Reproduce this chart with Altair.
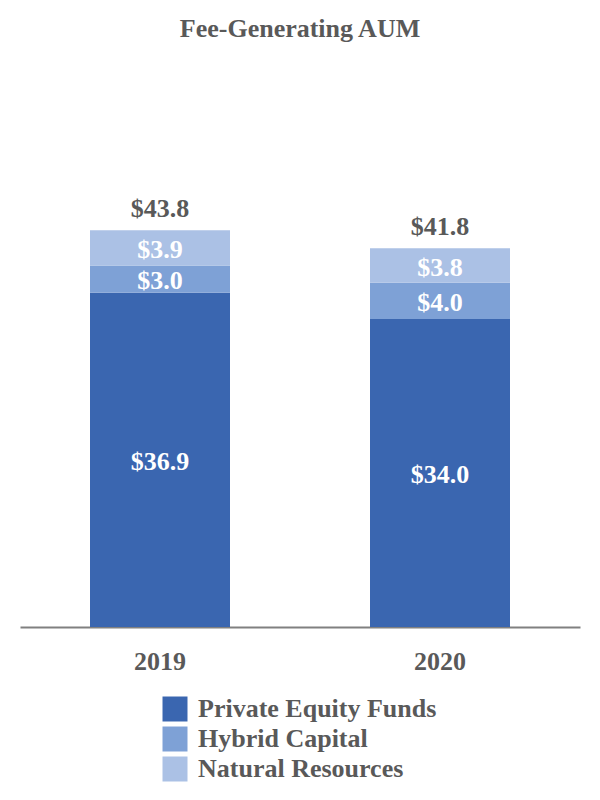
import altair as alt
import pandas as pd

years = ["2019", "2020"]
private_equity = [36.9, 34.0]
hybrid_capital = [3.0, 4.0]
natural_resources = [3.9, 3.8]
totals = [43.8, 41.8]
series_names = ["Private Equity Funds", "Hybrid Capital", "Natural Resources"]
colors = ["#3A66B0", "#7EA1D6", "#ABC1E5"]

rows = []
for i, y in enumerate(years):
    base = 0.0
    for k, (name, vals) in enumerate(zip(series_names, [private_equity, hybrid_capital, natural_resources])):
        v = vals[i]
        rows.append({"year": y, "series": name, "value": v, "order": k,
                     "mid": base + v / 2, "label": f"${v:.1f}"})
        base += v
df = pd.DataFrame(rows)
tot = pd.DataFrame({"year": years, "total": totals, "label": [f"${t:.1f}" for t in totals]})

FONT = "Liberation Serif"
GRAY = "#595959"
FS = 26

x = alt.X("year:N", title=None,
          scale=alt.Scale(paddingInner=0.5, paddingOuter=0.25),
          axis=alt.Axis(labelAngle=0, labelFont=FONT, labelFontSize=FS, labelFontWeight="bold",
                        labelColor=GRAY, ticks=False, tickSize=0, labelPadding=21,
                        domainColor="#808080", domainWidth=2))
yscale = alt.Scale(domain=[0, 50], nice=False)

bars = alt.Chart(df).mark_bar().encode(
    x=x,
    y=alt.Y("value:Q", stack="zero", scale=yscale, axis=None),
    color=alt.Color("series:N", sort=series_names,
                    scale=alt.Scale(domain=series_names, range=colors),
                    legend=alt.Legend(title=None, orient="none", legendX=142, legendY=522,
                                      symbolType="square", symbolSize=625, symbolStrokeWidth=0,
                                      symbolOpacity=1, labelLimit=400,
                                      labelFont=FONT, labelFontSize=FS, labelFontWeight="bold",
                                      labelColor=GRAY, labelOffset=10, rowPadding=4, padding=0)),
    order=alt.Order("order:Q", sort="ascending"),
)

seg_labels = alt.Chart(df).mark_text(font=FONT, fontSize=FS, fontWeight="bold", color="white",
                                     baseline="middle", dy=2).encode(
    x=alt.X("year:N"),
    y=alt.Y("mid:Q", scale=yscale),
    text="label:N",
)

total_labels = alt.Chart(tot).mark_text(font=FONT, fontSize=FS, fontWeight="bold", color=GRAY,
                                        baseline="middle", dy=-21).encode(
    x=alt.X("year:N"),
    y=alt.Y("total:Q", scale=yscale),
    text="label:N",
)

chart = alt.layer(bars, seg_labels, total_labels).properties(
    width=560, height=453,
    title=alt.TitleParams("Fee-Generating AUM", font=FONT, fontSize=FS, fontWeight="bold",
                          color=GRAY, anchor="middle", frame="group", baseline="alphabetic",
                          offset=111),
    autosize=alt.AutoSizeParams(type="none"),
    padding={"left": 12, "top": 166, "right": 12, "bottom": 157},
).configure_view(stroke=None)

chart.save("out.html", embed_options={"renderer": "svg", "actions": False})
